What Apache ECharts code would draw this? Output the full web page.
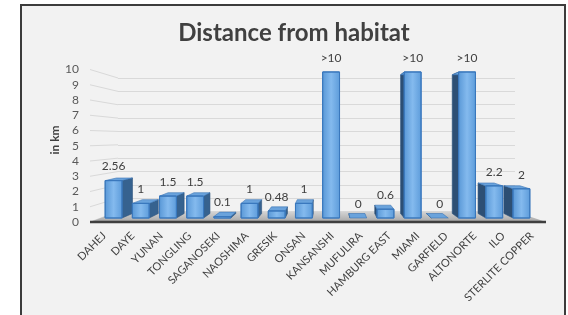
<!DOCTYPE html>
<html>
<head>
<meta charset="utf-8">
<style>
  html, body { margin: 0; padding: 0; background: #fff; }
  #chart { width: 568px; height: 315px; }
</style>
<script src="https://cdn.jsdelivr.net/npm/echarts@6.0.0/dist/echarts.min.js"></script>
</head>
<body>
<div id="chart"></div>
<script>
const sites = ['DAHEJ', 'DAYE', 'YUNAN', 'TONGLING', 'SAGANOSEKI', 'NAOSHIMA', 'GRESIK', 'ONSAN',
  'KANSANSHI', 'MUFULIRA', 'HAMBURG EAST', 'MIAMI', 'GARFIELD', 'ALTONORTE', 'ILO', 'STERLITE COPPER'];
// ">10" sites are drawn up to the top of the axis
const distKm = [2.56, 1, 1.5, 1.5, 0.1, 1, 0.48, 1, 10, 0, 0.6, 10, 0, 10, 2.2, 2];
const distLabels = ['2.56', '1', '1.5', '1.5', '0.1', '1', '0.48', '1', '>10', '0', '0.6', '>10', '0', '>10', '2.2', '2'];
const yTicks = [0, 1, 2, 3, 4, 5, 6, 7, 8, 9, 10];

// fake 3d: front plane (labels), back wall (gridlines), bars in between
const gFront = { left: 90, right: 22, top: 69.5, bottom: 93 };
const gBack = { left: 118, right: 53, top: 78, bottom: 103.4 };
const gBars = { left: 100, right: 33, top: 72, bottom: 97 };
const VP = [331, 128];
const DEPTH = 0.05;

function toBack(p) {
  return [p[0] + (VP[0] - p[0]) * DEPTH, p[1] + (VP[1] - p[1]) * DEPTH];
}

const frontFill = new echarts.graphic.LinearGradient(0, 0, 1, 0, [
  { offset: 0, color: '#5897d6' },
  { offset: 0.5, color: '#84baee' },
  { offset: 1, color: '#5c9bda' }
]);

function renderBar(params, api) {
  const i = api.value(0);
  const base = api.coord([i, 0]);
  const top = api.coord([i, api.value(1)]);
  const w = api.size([1, 0])[0] * 0.62;
  const xl = base[0] - w / 2, xr = base[0] + w / 2;
  const fTL = [xl, top[1]], fTR = [xr, top[1]], fBL = [xl, base[1]], fBR = [xr, base[1]];
  const bTL = toBack(fTL), bTR = toBack(fTR), bBL = toBack(fBL), bBR = toBack(fBR);
  const rightSide = bTL[0] > xl;
  const side = rightSide ? [fTR, bTR, bBR, fBR] : [fTL, bTL, bBL, fBL];
  const children = [
    { type: 'polygon', shape: { points: side },
      style: { fill: rightSide ? '#36628f' : '#2d4f74', stroke: '#2b527c', lineWidth: 0.6 } },
    { type: 'polygon', shape: { points: [fTL, fTR, bTR, bTL] }, style: { fill: '#6aa3dc', stroke: '#3a74b4', lineWidth: 0.6 } }
  ];
  if (base[1] - top[1] > 0.5) {
    children.push({ type: 'rect', shape: { x: xl, y: top[1], width: w, height: base[1] - top[1] },
      style: { fill: frontFill, stroke: '#3a78bd', lineWidth: 1 } });
  }
  children.push({ type: 'text', x: base[0], y: top[1] - 14,
    style: { text: distLabels[i], align: 'center', verticalAlign: 'middle', fill: '#404040', font: '12px Lato' } });
  return { type: 'group', children: children };
}

const chart = echarts.init(document.getElementById('chart'));

const option = {
  animation: false,
  backgroundColor: '#ffffff',
  grid: [gFront, gBack, gBars],
  xAxis: [
    { type: 'category', gridIndex: 0, data: sites, axisLine: { show: false }, axisTick: { show: false },
      axisLabel: { rotate: 45, margin: 12, interval: 0, fontFamily: 'Lato', fontSize: 11, color: '#404040' } },
    { type: 'category', gridIndex: 1, data: sites, show: false },
    { type: 'category', gridIndex: 2, data: sites, show: false }
  ],
  yAxis: [
    { type: 'value', gridIndex: 0, min: 0, max: 10, interval: 1, splitLine: { show: false },
      axisLine: { show: false }, axisTick: { show: false },
      axisLabel: { margin: 11, fontFamily: 'Lato', fontSize: 12, color: '#595959' } },
    { type: 'value', gridIndex: 1, min: 0, max: 10, interval: 1, axisLabel: { show: false },
      axisLine: { show: false }, axisTick: { show: false },
      splitLine: { lineStyle: { color: '#d9d9d9', width: 1 } } },
    { type: 'value', gridIndex: 2, min: 0, max: 10, show: false }
  ],
  series: [{
    type: 'custom',
    xAxisIndex: 2,
    yAxisIndex: 2,
    z: 5,
    renderItem: renderBar,
    data: distKm.map((v, i) => [i, v])
  }]
};
chart.setOption(option);

// box, title, axis name, slanted gridline ends and the floor
const W = 568, H = 315;
const yF = v => chart.convertToPixel({ yAxisIndex: 0 }, v);
const yB = v => chart.convertToPixel({ yAxisIndex: 1 }, v);
const elements = [
  { type: 'rect', z: -10, shape: { x: 21, y: 5, width: 544, height: 330 },
    style: { fill: '#f2f2f2', stroke: '#3c3c3c', lineWidth: 2 } },
  { type: 'text', z: 10, x: 294, y: 33,
    style: { text: 'Distance from habitat', align: 'center', verticalAlign: 'middle',
      font: 'bold 24px Lato', fill: '#404040' } },
  { type: 'text', z: 10, x: 55, y: 140, rotation: Math.PI / 2,
    style: { text: 'in km', align: 'center', verticalAlign: 'middle', font: 'bold 12px Lato', fill: '#404040' } }
];
yTicks.forEach(t => {
  elements.push({ type: 'line', z: 0, shape: { x1: gFront.left, y1: yF(t), x2: gBack.left, y2: yB(t) },
    style: { stroke: '#d9d9d9', lineWidth: 1 } });
});
const fy = yF(0), by = yB(0);
elements.push({ type: 'polygon', z: 1,
  shape: { points: [[gFront.left, fy], [gBack.left, by], [W - gBack.right, by], [W - gFront.right, fy]] },
  style: { fill: new echarts.graphic.LinearGradient(0, 0, 0, 1, [
    { offset: 0, color: '#d4d4d4' }, { offset: 1, color: '#a6a6a6' }]) } });
elements.push({ type: 'line', z: 1, shape: { x1: gFront.left, y1: fy, x2: W - gFront.right, y2: fy },
  style: { stroke: '#3f3f3f', lineWidth: 2.5 } });
chart.setOption({ graphic: { elements: elements } });

window.onresize = function () {
  chart.resize();
};
</script>
</body>
</html>
